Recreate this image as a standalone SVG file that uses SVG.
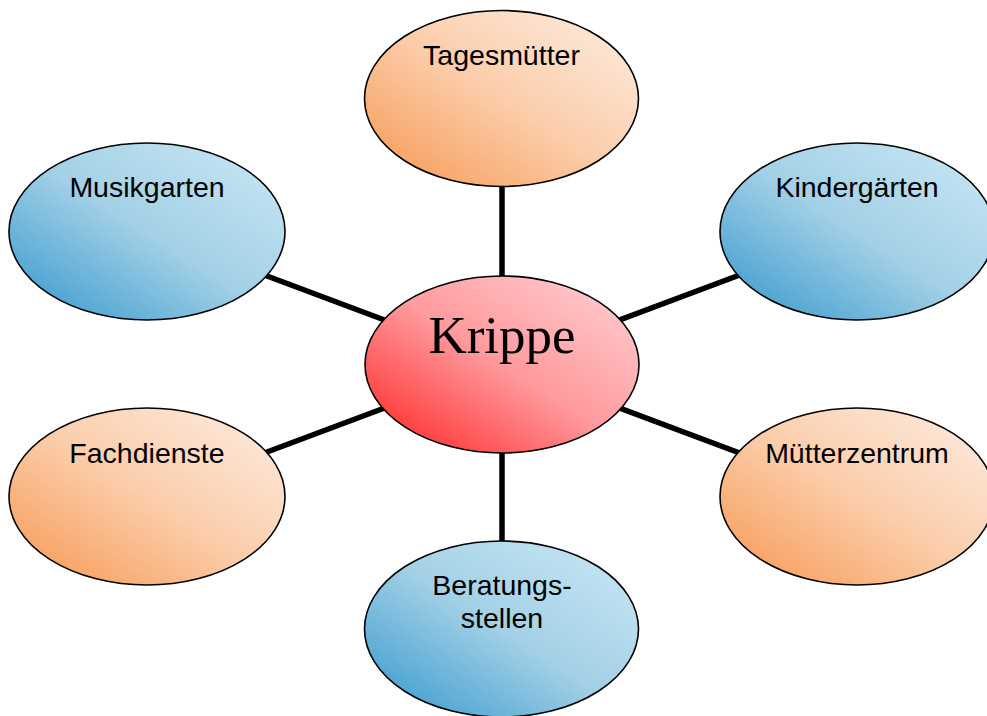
<svg xmlns="http://www.w3.org/2000/svg" width="987" height="716" viewBox="0 0 987 716">
<defs>
<linearGradient id="gOrange" x1="1" y1="0" x2="0" y2="1">
<stop offset="0" stop-color="#fdeee4"/>
<stop offset="0.5" stop-color="#fbcdaa"/>
<stop offset="1" stop-color="#f7964f"/>
</linearGradient>
<linearGradient id="gBlue" x1="1" y1="0" x2="0" y2="1">
<stop offset="0" stop-color="#cbe9f5"/>
<stop offset="0.5" stop-color="#a3d0e6"/>
<stop offset="1" stop-color="#3096cc"/>
</linearGradient>
<linearGradient id="gRed" x1="1" y1="0" x2="0" y2="1">
<stop offset="0" stop-color="#ffd3d6"/>
<stop offset="0.5" stop-color="#ff9a9d"/>
<stop offset="1" stop-color="#ff1e1e"/>
</linearGradient>
</defs>
<style>
.node ellipse{stroke:#000;stroke-width:1.6}
.o{fill:url(#gOrange)}
.b{fill:url(#gBlue)}
.r{fill:url(#gRed)}
.lbl{font-family:"Liberation Sans",Arial,sans-serif;font-size:28.5px;fill:#000;text-anchor:middle}
.big{font-family:"Liberation Serif","Times New Roman",serif;font-size:53px;fill:#000;text-anchor:middle}
#connectors line{stroke:#000;stroke-width:5.5}
</style>
<rect width="987" height="716" fill="#fff"/>
<g id="connectors">
<line x1="502" y1="364" x2="502" y2="98"/>
<line x1="502" y1="364" x2="147" y2="231"/>
<line x1="502" y1="364" x2="857" y2="231"/>
<line x1="502" y1="364" x2="147" y2="497"/>
<line x1="502" y1="364" x2="857" y2="497"/>
<line x1="502" y1="364" x2="502" y2="629"/>
</g>
<g id="tagesmuetter" class="node">
<ellipse class="o" cx="501.5" cy="98.5" rx="137" ry="88"/>
<text class="lbl" x="501.5" y="65">Tagesmütter</text>
</g>
<g id="musikgarten" class="node">
<ellipse class="b" cx="147" cy="231.5" rx="138" ry="88.5"/>
<text class="lbl" x="147" y="197">Musikgarten</text>
</g>
<g id="kindergaerten" class="node">
<ellipse class="b" cx="857" cy="231.5" rx="137" ry="88.5"/>
<text class="lbl" x="857" y="197">Kindergärten</text>
</g>
<g id="krippe" class="node">
<ellipse class="r" cx="502" cy="364.5" rx="137" ry="88.5"/>
<text class="big" x="502" y="353">Krippe</text>
</g>
<g id="fachdienste" class="node">
<ellipse class="o" cx="147" cy="496.5" rx="138" ry="88.5"/>
<text class="lbl" x="147" y="463">Fachdienste</text>
</g>
<g id="muetterzentrum" class="node">
<ellipse class="o" cx="857" cy="496.5" rx="137" ry="88.5"/>
<text class="lbl" x="857" y="463">Mütterzentrum</text>
</g>
<g id="beratungsstellen" class="node">
<ellipse class="b" cx="501.5" cy="629" rx="137" ry="88"/>
<text class="lbl" x="502" y="595">Beratungs-</text>
<text class="lbl" x="502" y="628">stellen</text>
</g>
</svg>
